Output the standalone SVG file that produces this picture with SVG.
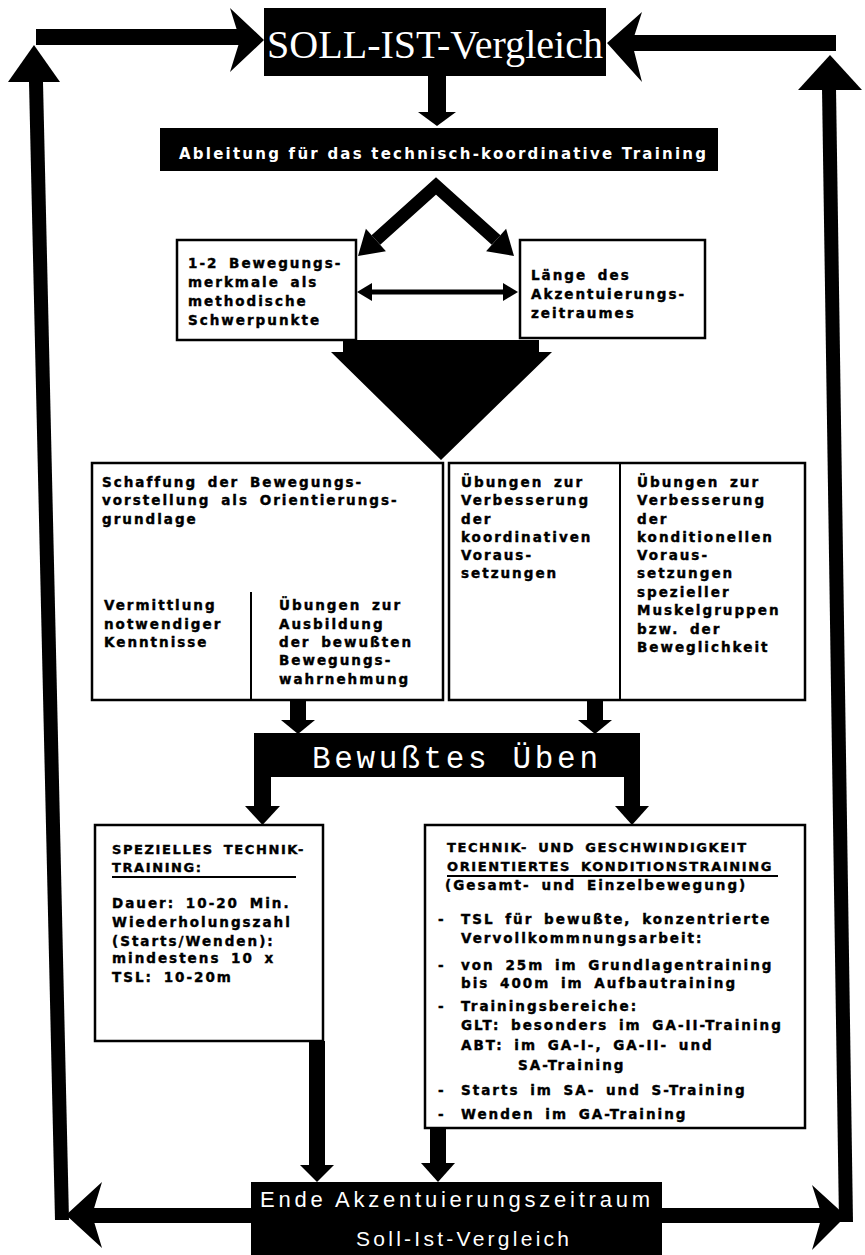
<svg xmlns="http://www.w3.org/2000/svg" width="865" height="1255" viewBox="0 0 865 1255">
<style>
.bx{fill:#fff;stroke:#000;stroke-width:2.5}
.dv{stroke:#000;stroke-width:2}
.k{fill:#000}
.t{font-family:"DejaVu Sans",sans-serif;font-weight:bold;font-size:13.5px;letter-spacing:2px;word-spacing:4px;fill:#000;stroke:#000;stroke-width:0.4px}
.h{font-family:"DejaVu Sans",sans-serif;font-weight:bold;font-size:13px;letter-spacing:1.6px;word-spacing:4px;fill:#000;stroke:#000;stroke-width:0.4px}
.ul{stroke:#000;stroke-width:2}
.arm{fill:none;stroke:#000;stroke-linejoin:miter;stroke-miterlimit:10}
.ws{font-family:"Liberation Serif",serif;fill:#fff}
.wm{font-family:"Liberation Mono",monospace;fill:#fff}
.wa{font-family:"Liberation Sans",sans-serif;fill:#fff}
.wb{font-family:"DejaVu Sans",sans-serif;font-weight:bold;fill:#fff}
</style>
<rect width="865" height="1255" fill="#fff"/>

<g id="connectors">
  <rect class="k" x="36" y="29" width="204" height="16"/>
  <polygon class="k" points="230,8 264,40 230,72 240,40"/>
  <rect class="k" x="632" y="35" width="204" height="16"/>
  <polygon class="k" points="642,12 607,43 642,82 632,43"/>
  <polygon class="k" points="29,82 43,82 69,1220 55,1220"/>
  <polygon class="k" points="8,82 60,82 34,45"/>
  <polygon class="k" points="822,88 836,88 853,1222 839,1222"/>
  <polygon class="k" points="798,90 862,90 830,55"/>
  <rect class="k" x="428" y="76" width="18" height="37"/>
  <polygon class="k" points="418,112 456,112 437,126"/>
  <polyline class="arm" stroke-width="13" points="375.9,240 436,186 496.1,240"/>
  <polygon class="k" points="385.9,251.2 365.9,228.8 358,256"/>
  <polygon class="k" points="486.1,251.2 506.1,228.8 514,256"/>
  <rect class="k" x="370" y="289.5" width="135" height="5"/>
  <polygon class="k" points="372,283 372,301 357,292"/>
  <polygon class="k" points="503,283 503,301 518,292"/>
  <polygon class="k" points="343,340 539,340 539,352 552,352 441,460 331,352 343,352"/>
  <polyline class="arm" stroke-width="9" points="209.7,565.5 247,529 285.2,565.6"/>
  <polygon class="k" points="216.7,572.6 202.7,558.4 199,576"/>
  <polygon class="k" points="278.3,572.8 292.1,558.4 296,576"/>
  <rect class="k" x="290" y="700" width="16" height="21"/>
  <polygon class="k" points="281,720 315,720 298,734"/>
  <rect class="k" x="587" y="700" width="16" height="21"/>
  <polygon class="k" points="578,720 612,720 595,734"/>
  <rect class="k" x="254" y="770" width="17" height="37"/>
  <polygon class="k" points="245,806 280,806 262.5,825"/>
  <rect class="k" x="624" y="770" width="16" height="37"/>
  <polygon class="k" points="615,806 649,806 632,825"/>
  <rect class="k" x="309" y="1041" width="16" height="125"/>
  <polygon class="k" points="300,1165 334,1165 317,1182"/>
  <rect class="k" x="430" y="1128" width="16" height="36"/>
  <polygon class="k" points="421,1163 455,1163 438,1182"/>
  <rect class="k" x="90" y="1208" width="732" height="15"/>
  <polygon class="k" points="102,1182 66,1215 102,1248 92,1215"/>
  <polygon class="k" points="812,1185 846,1216 812,1250 822,1216"/>
</g>

<g id="node_soll_ist_top">
  <rect class="k" x="264" y="8" width="342" height="68"/>
  <text class="ws" x="267" y="58" font-size="40" textLength="336" lengthAdjust="spacingAndGlyphs">SOLL-IST-Vergleich</text>
</g>

<g id="node_ableitung">
  <rect class="k" x="160" y="128" width="558" height="43"/>
  <text class="wb" x="179" y="159" font-size="15" textLength="527" lengthAdjust="spacing">Ableitung für das technisch-koordinative Training</text>
</g>

<g id="node_merkmale">
  <rect class="bx" x="177" y="240" width="179" height="100"/>
  <text class="t" x="188" y="268">1-2 Bewegungs-</text>
  <text class="t" x="188" y="287">merkmale als</text>
  <text class="t" x="188" y="306">methodische</text>
  <text class="t" x="188" y="325">Schwerpunkte</text>
</g>

<g id="node_laenge">
  <rect class="bx" x="520" y="240" width="185" height="98"/>
  <text class="t" x="531" y="280">Länge des</text>
  <text class="t" x="531" y="299">Akzentuierungs-</text>
  <text class="t" x="531" y="318">zeitraumes</text>
</g>

<g id="node_vorstellung">
  <rect class="bx" x="92" y="463" width="351" height="237"/>
  <line class="dv" x1="251" y1="592" x2="251" y2="700"/>
  <text class="t" x="102" y="487">Schaffung der Bewegungs-</text>
  <text class="t" x="102" y="505">vorstellung als Orientierungs-</text>
  <text class="t" x="102" y="524">grundlage</text>
  <text class="t" x="104" y="610">Vermittlung</text>
  <text class="t" x="104" y="629">notwendiger</text>
  <text class="t" x="104" y="647">Kenntnisse</text>
  <text class="t" x="279" y="610">Übungen zur</text>
  <text class="t" x="279" y="629">Ausbildung</text>
  <text class="t" x="279" y="647">der bewußten</text>
  <text class="t" x="279" y="665">Bewegungs-</text>
  <text class="t" x="279" y="684">wahrnehmung</text>
</g>

<g id="node_voraussetzungen">
  <rect class="bx" x="449" y="463" width="356" height="237"/>
  <line class="dv" x1="620" y1="463" x2="620" y2="700"/>
  <text class="t" x="461" y="487">Übungen zur</text>
  <text class="t" x="461" y="505">Verbesserung</text>
  <text class="t" x="461" y="524">der</text>
  <text class="t" x="461" y="542">koordinativen</text>
  <text class="t" x="461" y="560">Voraus-</text>
  <text class="t" x="461" y="578">setzungen</text>
  <text class="t" x="637" y="487">Übungen zur</text>
  <text class="t" x="637" y="505">Verbesserung</text>
  <text class="t" x="637" y="524">der</text>
  <text class="t" x="637" y="542">konditionellen</text>
  <text class="t" x="637" y="560">Voraus-</text>
  <text class="t" x="637" y="578">setzungen</text>
  <text class="t" x="637" y="597">spezieller</text>
  <text class="t" x="637" y="615">Muskelgruppen</text>
  <text class="t" x="637" y="634">bzw. der</text>
  <text class="t" x="637" y="652">Beweglichkeit</text>
</g>

<g id="node_bewusstes_ueben">
  <rect class="k" x="254" y="733" width="386" height="44"/>
  <text class="wm" x="312" y="768" font-size="31" textLength="286" lengthAdjust="spacing">Bewußtes Üben</text>
</g>

<g id="node_technik">
  <rect class="bx" x="95" y="825" width="228" height="216"/>
  <text class="h" x="112" y="854">SPEZIELLES TECHNIK-</text>
  <text class="h" x="112" y="872">TRAINING:</text>
  <line class="ul" x1="112" y1="877" x2="296" y2="877"/>
  <text class="t" x="112" y="908">Dauer: 10-20 Min.</text>
  <text class="t" x="112" y="927">Wiederholungszahl</text>
  <text class="t" x="112" y="946">(Starts/Wenden):</text>
  <text class="t" x="112" y="963">mindestens 10 x</text>
  <text class="t" x="112" y="982">TSL: 10-20m</text>
</g>

<g id="node_kondition">
  <rect class="bx" x="425" y="825" width="380" height="303"/>
  <text class="h" x="447" y="852">TECHNIK- UND GESCHWINDIGKEIT</text>
  <text class="h" x="447" y="871">ORIENTIERTES KONDITIONSTRAINING</text>
  <line class="ul" x1="447" y1="876" x2="778" y2="876"/>
  <text class="t" x="445" y="890">(Gesamt- und Einzelbewegung)</text>
  <text class="t" x="438" y="924">-</text>
  <text class="t" x="461" y="924">TSL für bewußte, konzentrierte</text>
  <text class="t" x="461" y="943">Vervollkommnungsarbeit:</text>
  <text class="t" x="438" y="970">-</text>
  <text class="t" x="461" y="970">von 25m im Grundlagentraining</text>
  <text class="t" x="461" y="988">bis 400m im Aufbautraining</text>
  <text class="t" x="438" y="1011">-</text>
  <text class="t" x="461" y="1011">Trainingsbereiche:</text>
  <text class="t" x="461" y="1030">GLT: besonders im GA-II-Training</text>
  <text class="t" x="461" y="1050">ABT: im GA-I-, GA-II- und</text>
  <text class="t" x="518" y="1070">SA-Training</text>
  <text class="t" x="438" y="1095">-</text>
  <text class="t" x="461" y="1095">Starts im SA- und S-Training</text>
  <text class="t" x="438" y="1119">-</text>
  <text class="t" x="461" y="1119">Wenden im GA-Training</text>
</g>

<g id="node_ende">
  <rect class="k" x="251" y="1182" width="411" height="73"/>
  <text class="wa" x="260" y="1207" font-size="22" textLength="390" lengthAdjust="spacing">Ende Akzentuierungszeitraum</text>
  <text class="wa" x="356" y="1246" font-size="21" textLength="213" lengthAdjust="spacing">Soll-Ist-Vergleich</text>
</g>
</svg>
